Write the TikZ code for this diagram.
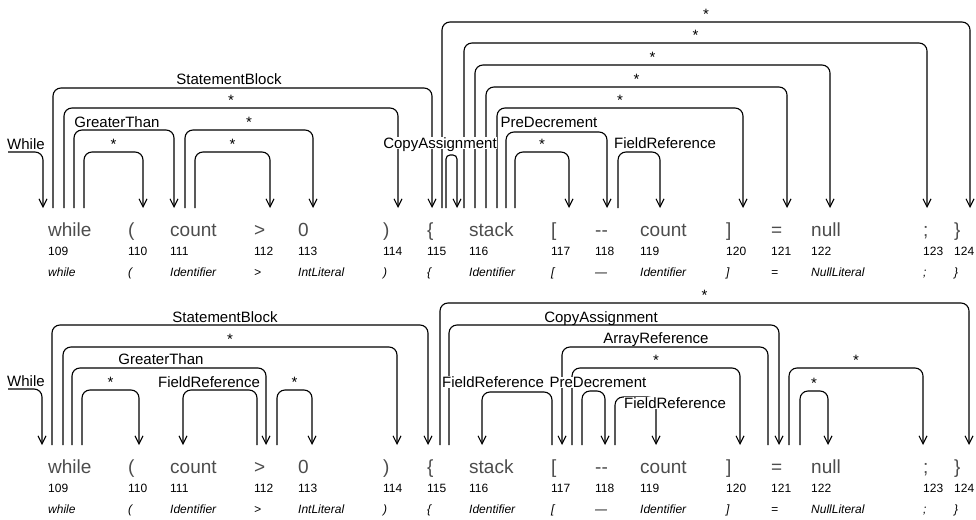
\documentclass[tikz,border=0pt]{standalone}
\usepackage{fontspec}
\setmainfont{Liberation Sans}
\usetikzlibrary{arrows.meta}
\tikzset{
  dep/.style={draw=black, line width=1.1pt, rounded corners=8pt, -{Straight Barb[length=8pt,width=8pt]}},
  deplbl/.style={fill=white, inner sep=0.6pt, text depth=0pt, anchor=base, font=\fontsize{15}{15}\selectfont},
  tok/.style={anchor=base west, inner sep=0pt, text=black!70, font=\fontsize{19}{19}\selectfont},
  idx/.style={anchor=base west, inner sep=0pt, font=\fontsize{12}{12}\selectfont},
  typ/.style={anchor=base west, inner sep=0pt, font=\fontsize{12}{12}\selectfont\itshape},
}
% token, index and type rows of one parse
\newcommand{\tokenrow}[1]{%
  \foreach \x/\w/\n/\k in {48/while/109/while, 128/(/110/(, 170/count/111/Identifier,
      254/>/112/>, 298/0/113/IntLiteral, 383/)/114/), 427/\{/115/\{, 469/stack/116/Identifier,
      551/[/117/[, 595/-{}-/118/—, 640/count/119/Identifier, 726/]/120/], 771/=/121/=,
      811/null/122/NullLiteral, 923/;/123/;, 954/\}/124/\}} {
    \node[tok] (#1w\n) at (\x,236) {\w};
    \node[idx] (#1n\n) at (\x,255) {\n};
    \node[typ] (#1k\n) at (\x,276) {\k};
  }}

\begin{document}
\begin{tikzpicture}[x=1pt,y=-1pt]
\useasboundingbox (0,0) rectangle (976,519);

% first parse
\foreach \s/\e/\h [count=\i] in {64/398/108, 84/143/152, 185/313/130, 195/270/152,
    442/970/22, 464/927/43, 475/830/65, 486/787/87, 497/743/108, 515/569/152} {
  \draw[dep] (\s,208) -- (\s,\h) -- (\e,\h) -- (\e,208);
  \node[deplbl] (astar\i) at ({(\s+\e)/2},\h-2.5) {*};
}
\foreach \s/\e/\h in {53/432/88, 74/174/130, 506/607/132, 618/660/152}
  \draw[dep] (\s,208) -- (\s,\h) -- (\e,\h) -- (\e,208);
\draw[dep, rounded corners=4pt] (446,208) -- (446,155) -- (457,155) -- (457,208);
\draw[dep] (8,152) -- (43,152) -- (43,208);
\node[deplbl] (awhile) at (26,149) {While};
\node[deplbl] (ablock) at (229,84.5) {StatementBlock};
\node[deplbl] (agt) at (117,127) {GreaterThan};
\node[deplbl] (acopy) at (440,148.5) {CopyAssignment};
\node[deplbl] (adec) at (549,127.5) {PreDecrement};
\node[deplbl] (afield) at (665,148.5) {FieldReference};
\tokenrow{a}

% second parse
\begin{scope}[yshift=-237pt]
\foreach \s/\e/\h [count=\i] in {63/397/110, 82/139/153, 277/312/153, 440/969/66,
    572/740/131, 789/923/131, 800/828/154} {
  \draw[dep] (\s,208) -- (\s,\h) -- (\e,\h) -- (\e,208);
  \node[deplbl] (bstar\i) at ({(\s+\e)/2},\h-2.5) {*};
}
\foreach \s/\e/\h in {52/428/88, 72/266/131, 257/183/153, 449/779/88,
    552/482/155, 768/562/110, 582/605/154, 615/656/160}
  \draw[dep] (\s,208) -- (\s,\h) -- (\e,\h) -- (\e,208);
\draw[dep] (8,152) -- (42,152) -- (42,208);
\node[deplbl] (bwhile) at (26,149) {While};
\node[deplbl] (bblock) at (225,85.5) {StatementBlock};
\node[deplbl] (bgt) at (161,127.5) {GreaterThan};
\node[deplbl] (bfield1) at (209,150.5) {FieldReference};
\node[deplbl] (bcopy) at (601,85.5) {CopyAssignment};
\node[deplbl] (barray) at (656,106.5) {ArrayReference};
\node[deplbl] (bfield2) at (493,150.5) {FieldReference};
\node[deplbl] (bdec) at (598,150.5) {PreDecrement};
\node[deplbl] (bfield3) at (675,171.5) {FieldReference};
\tokenrow{b}
\end{scope}
\end{tikzpicture}
\end{document}
